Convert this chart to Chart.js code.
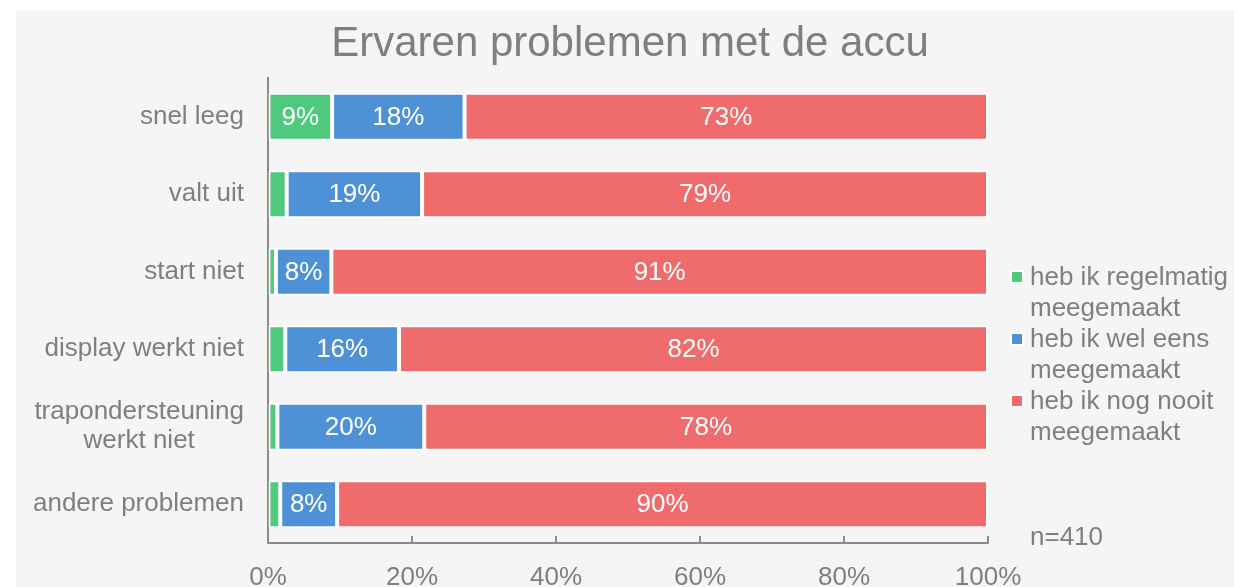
<!DOCTYPE html>
<html>
<head>
<meta charset="utf-8">
<script src="https://cdn.jsdelivr.net/npm/chart.js@4"></script>
<style>
  html, body { margin: 0; padding: 0; background: #ffffff; overflow: hidden; }
  body { width: 1234px; height: 587px; position: relative; font-family: "Liberation Sans", Arial, sans-serif; color: #7f7f7f; }
  #panel { position: absolute; left: 16px; top: 11px; width: 1218px; height: 576px; background: #f5f5f5; }
  #chartBox { position: absolute; left: 0; top: 0; width: 1218px; height: 576px; }
  #title { position: absolute; left: 26px; width: 1208px; top: 18px; text-align: center; font-size: 42px; line-height: 48px; }
  #legend { position: absolute; left: 1010px; top: 261px; font-size: 26px; line-height: 31px; }
  .item { position: relative; padding-left: 20px; }
  .box { position: absolute; left: 0; top: 9px; width: 10px; height: 10px; border: 2px solid #ffffff; }
  #note { position: absolute; left: 1030px; top: 521px; font-size: 26px; line-height: 31px; }
</style>
</head>
<body>
<div id="panel">
  <div id="chartBox"><canvas id="accuChart" width="1218" height="576"></canvas></div>
</div>
<div id="title">Ervaren problemen met de accu</div>
<div id="legend"></div>
<div id="note">n=410</div>

<script>
// data (percentages)
const categories = [
  'snel leeg',
  'valt uit',
  'start niet',
  'display werkt niet',
  ['trapondersteuning', 'werkt niet'],
  'andere problemen'
];
const seriesNames = [
  ['heb ik regelmatig', 'meegemaakt'],
  ['heb ik wel eens', 'meegemaakt'],
  ['heb ik nog nooit', 'meegemaakt']
];
const regelmatig = [8.9, 2.6, 1.1, 2.4, 1.3, 1.7];
const welEens = [18.4, 18.8, 7.7, 15.8, 20.4, 7.9];
const nooit = [72.7, 78.6, 91.2, 81.8, 78.3, 90.4];
const xTicks = [0, 20, 40, 60, 80, 100];

const colors = ['#4fc97b', '#4f91d6', '#f06c6c'];
const textGray = '#7f7f7f';
const font = '"Liberation Sans", Arial, sans-serif';

// html legend
const legendEl = document.getElementById('legend');
seriesNames.forEach((name, i) => {
  const div = document.createElement('div');
  div.className = 'item';
  div.innerHTML = '<span class="box" style="background:' + colors[i] + '"></span>' + name.join('<br>');
  legendEl.appendChild(div);
});

// values inside the bars
const barLabels = {
  id: 'barLabels',
  afterDatasetsDraw(chart) {
    const ctx = chart.ctx;
    ctx.save();
    ctx.font = '26px ' + font;
    ctx.fillStyle = '#ffffff';
    ctx.textAlign = 'center';
    ctx.textBaseline = 'middle';
    chart.data.datasets.forEach((ds, di) => {
      chart.getDatasetMeta(di).data.forEach((bar, i) => {
        const v = ds.data[i];
        if (v < 5) return;
        const p = bar.getCenterPoint();
        ctx.fillText(Math.round(v) + '%', p.x, p.y + 1);
      });
    });
    ctx.restore();
  }
};

// category labels: single lines right aligned, wrapped ones centred as a block
const catLabels = {
  id: 'catLabels',
  afterDraw(chart) {
    const ctx = chart.ctx;
    const y = chart.scales.y;
    const right = chart.chartArea.left - 24;
    ctx.save();
    ctx.font = '26px ' + font;
    ctx.fillStyle = textGray;
    ctx.textBaseline = 'middle';
    categories.forEach((c, i) => {
      const cy = y.getPixelForValue(i);
      if (Array.isArray(c)) {
        const w = Math.max(...c.map(t => ctx.measureText(t).width));
        ctx.textAlign = 'center';
        c.forEach((t, j) => ctx.fillText(t, right - w / 2, cy + (j - (c.length - 1) / 2) * 29));
      } else {
        ctx.textAlign = 'right';
        ctx.fillText(c, right, cy);
      }
    });
    ctx.restore();
  }
};

// small tick marks pointing up into the plot
const innerTicks = {
  id: 'innerTicks',
  afterDraw(chart) {
    const ctx = chart.ctx;
    const x = chart.scales.x;
    ctx.save();
    ctx.strokeStyle = '#8a8a8a';
    ctx.lineWidth = 2;
    xTicks.forEach(t => {
      const px = x.getPixelForValue(t);
      ctx.beginPath();
      ctx.moveTo(px, x.top);
      ctx.lineTo(px, x.top - 7);
      ctx.stroke();
    });
    ctx.restore();
  }
};

const ctx = document.getElementById('accuChart').getContext('2d');
new Chart(ctx, {
  type: 'bar',
  data: {
    labels: categories,
    datasets: [regelmatig, welEens, nooit].map((d, i) => ({
      label: seriesNames[i].join(' '),
      data: d,
      backgroundColor: colors[i],
      borderColor: '#ffffff',
      borderWidth: 2,
      borderSkipped: false,
      barPercentage: 0.62,
      categoryPercentage: 1
    }))
  },
  options: {
    indexAxis: 'y',
    responsive: false,
    animation: false,
    devicePixelRatio: 1,
    layout: { padding: { top: 67, right: 246, left: 0, bottom: 0 } },
    plugins: {
      legend: { display: false },
      title: { display: false },
      tooltip: { enabled: false }
    },
    scales: {
      x: {
        stacked: true,
        min: 0,
        max: 100,
        afterBuildTicks: s => { s.ticks = xTicks.map(v => ({ value: v })); },
        afterFit: s => { s.height = 44; },
        grid: { drawOnChartArea: false, drawTicks: false },
        border: { display: true, color: '#8a8a8a', width: 2 },
        ticks: {
          color: textGray,
          font: { size: 26, family: font },
          padding: 19,
          maxRotation: 0,
          callback: v => v + '%'
        }
      },
      y: {
        stacked: true,
        afterFit: s => { s.width = 252; },
        grid: { drawOnChartArea: false, drawTicks: false },
        border: { display: true, color: '#8a8a8a', width: 2 },
        ticks: { display: false }
      }
    }
  },
  plugins: [barLabels, catLabels, innerTicks]
});
</script>
</body>
</html>
